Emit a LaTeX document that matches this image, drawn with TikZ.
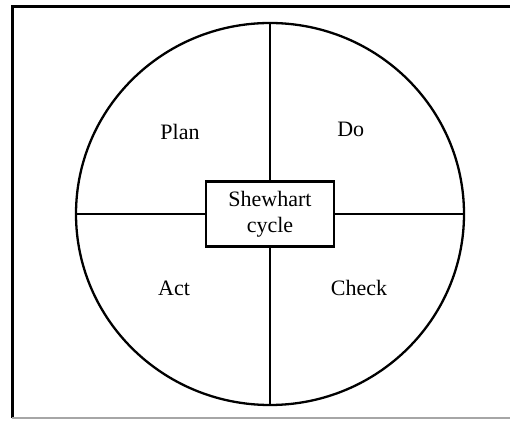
\documentclass[tikz,border=0pt]{standalone}
\usepackage{fontspec}
\setmainfont{Liberation Serif}
\usetikzlibrary{shapes.geometric}
\begin{document}
\begin{tikzpicture}[x=1pt,y=1pt,
  lbl/.style={font=\fontsize{22}{26}\selectfont, inner sep=0pt},
  ring/.style={draw, line width=2.3pt, ellipse, inner sep=0pt, minimum width=388pt, minimum height=382pt},
  centrebox/.style={draw, line width=2.3pt, fill=white, minimum width=128pt, minimum height=65pt, align=center, inner sep=0pt, font=\fontsize{22}{26}\selectfont},
  divider/.style={line width=2.2pt}]
\useasboundingbox (0,0) rectangle (510,420);
% frame
\coordinate (ftl) at (12,413);
\coordinate (ftr) at (510,413);
\coordinate (fbl) at (12,2);
\coordinate (fbr) at (510,2);
\draw[line width=3pt] (fbl) -- (ftl) -- (ftr);
\draw[gray!70, line width=1.4pt] (fbl) -- (fbr);
% circle
\node[ring] (c) at (270,206) {};
\node[centrebox] (box) at (270,206) {Shewhart\\cycle};
\draw[divider] (c.north) -- (box.north);
\draw[divider] (box.south) -- (c.south);
\draw[divider] (c.west) -- (box.west);
\draw[divider] (box.east) -- (c.east);
% labels
\node[lbl] (plan) at (180,288) {Plan};
\node[lbl] (do) at (350.7,291) {Do};
\node[lbl] (act) at (174,132) {Act};
\node[lbl] (check) at (359,132) {Check};
\end{tikzpicture}
\end{document}
